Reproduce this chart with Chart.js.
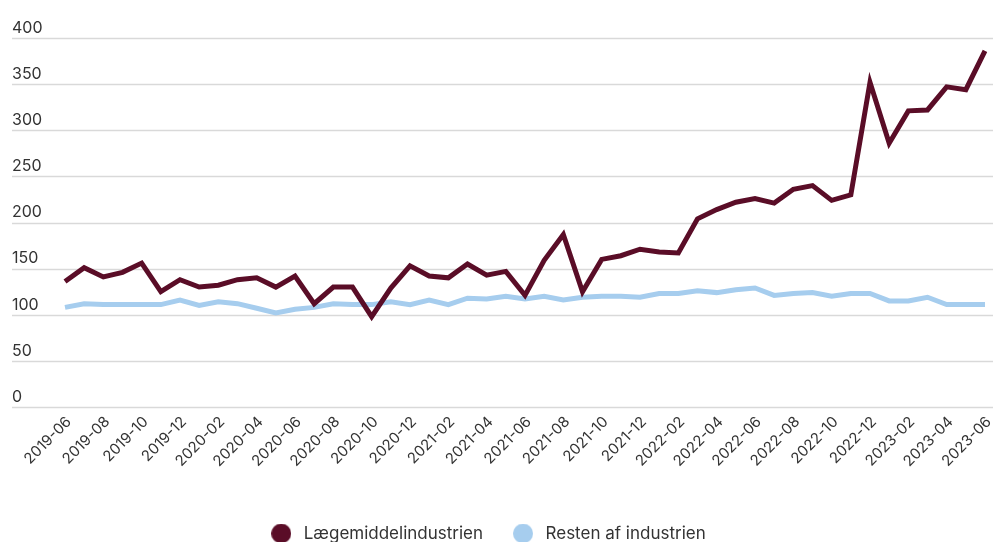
<!DOCTYPE html>
<html>
<head>
<meta charset="utf-8">
<script src="https://cdn.jsdelivr.net/npm/chart.js@4.4.0/dist/chart.umd.min.js"></script>
<style>
  html, body { margin: 0; padding: 0; background: #ffffff; }
  #wrap { width: 994px; height: 542px; position: relative; }
</style>
</head>
<body>
<div id="wrap"><canvas id="c"></canvas></div>
<script>
const categories = [
  "2019-06","2019-07","2019-08","2019-09","2019-10","2019-11","2019-12",
  "2020-01","2020-02","2020-03","2020-04","2020-05","2020-06","2020-07","2020-08","2020-09","2020-10","2020-11","2020-12",
  "2021-01","2021-02","2021-03","2021-04","2021-05","2021-06","2021-07","2021-08","2021-09","2021-10","2021-11","2021-12",
  "2022-01","2022-02","2022-03","2022-04","2022-05","2022-06","2022-07","2022-08","2022-09","2022-10","2022-11","2022-12",
  "2023-01","2023-02","2023-03","2023-04","2023-05","2023-06"
];
const seriesNames = ["Lægemiddelindustrien", "Resten af industrien"];
const laegemiddel = [136,151,141,146,156,125,138,130,132,138,140,130,142,112,130,130,98,129,153,142,140,155,143,147,121,159,187,125,160,164,171,168,167,204,214,222,226,221,236,240,224,230,352,286,321,322,347,344,386];
const resten = [108,112,111,111,111,111,116,110,114,112,107,102,106,108,112,111,111,114,111,116,111,118,117,120,117,120,116,119,120,120,119,123,123,126,124,127,129,121,123,124,120,123,123,115,115,119,111,111,111];
const yTicks = [0,50,100,150,200,250,300,350,400];
const seriesColors = ['#5a0d27', '#a6cdee'];

function makeDot(color) {
  const c = document.createElement('canvas');
  c.width = 20; c.height = 20;
  const g = c.getContext('2d');
  g.fillStyle = color;
  g.beginPath();
  g.arc(10, 10, 10, 0, Math.PI * 2);
  g.fill();
  return c;
}
const dots = seriesColors.map(makeDot);

const gridPlugin = {
  id: 'fullGrid',
  beforeDatasetsDraw(chart) {
    const y = chart.scales.y;
    const ctx = chart.ctx;
    ctx.save();
    ctx.strokeStyle = '#d9d9d9';
    ctx.lineWidth = 1.5;
    y.ticks.forEach(t => {
      const py = Math.round(y.getPixelForValue(t.value)) + 0.5;
      ctx.beginPath();
      ctx.moveTo(12, py);
      ctx.lineTo(993, py);
      ctx.stroke();
    });
    ctx.restore();
  }
};

const legendShift = {
  id: 'legendShift',
  afterLayout(chart) {
    const lg = chart.legend;
    if (lg) { lg.left -= 12; lg.right -= 12; }
  }
};

new Chart(document.getElementById('c'), {
  type: 'line',
  data: {
    labels: categories,
    datasets: [
      { label: seriesNames[0], data: laegemiddel, borderColor: seriesColors[0], backgroundColor: seriesColors[0],
        borderWidth: 5, pointRadius: 0, tension: 0, borderJoinStyle: 'miter', fill: false },
      { label: seriesNames[1], data: resten, borderColor: seriesColors[1], backgroundColor: seriesColors[1],
        borderWidth: 5, pointRadius: 0, tension: 0, borderJoinStyle: 'miter', fill: false }
    ]
  },
  options: {
    responsive: true,
    maintainAspectRatio: false,
    animation: false,
    layout: { padding: { top: 38, left: 12, right: 9, bottom: -10 } },
    plugins: {
      tooltip: { enabled: false },
      legend: {
        position: 'bottom',
        align: 'center',
        labels: {
          usePointStyle: true,
          pointStyleWidth: 28,
          padding: 26,
          color: '#333333',
          font: { family: 'Inter', size: 17 },
          generateLabels(chart) {
            const items = Chart.defaults.plugins.legend.labels.generateLabels(chart);
            items.forEach((it, i) => { it.pointStyle = dots[i]; it.lineWidth = 0; });
            return items;
          }
        }
      }
    },
    scales: {
      x: {
        grid: { display: false, drawTicks: false },
        border: { display: false },
        afterFit(s) { s.height = 92; s.paddingRight = 0; s.paddingLeft = 0; },
        ticks: {
          autoSkip: false,
          maxRotation: 45,
          minRotation: 45,
          padding: 6,
          labelOffset: 4,
          color: '#333333',
          font: { family: 'Inter', size: 15 },
          callback(v, i) { return i % 2 === 0 ? categories[i] : ''; }
        }
      },
      y: {
        min: 0,
        max: 400,
        afterBuildTicks(s) { s.ticks = yTicks.map(v => ({ value: v })); },
        afterFit(s) { s.width = 53; },
        grid: { display: false, drawTicks: false },
        border: { display: false },
        ticks: {
          crossAlign: 'far',
          labelOffset: -10,
          padding: 0,
          color: '#333333',
          font: { family: 'Inter', size: 16 }
        }
      }
    }
  },
  plugins: [gridPlugin, legendShift]
});
</script>
</body>
</html>
